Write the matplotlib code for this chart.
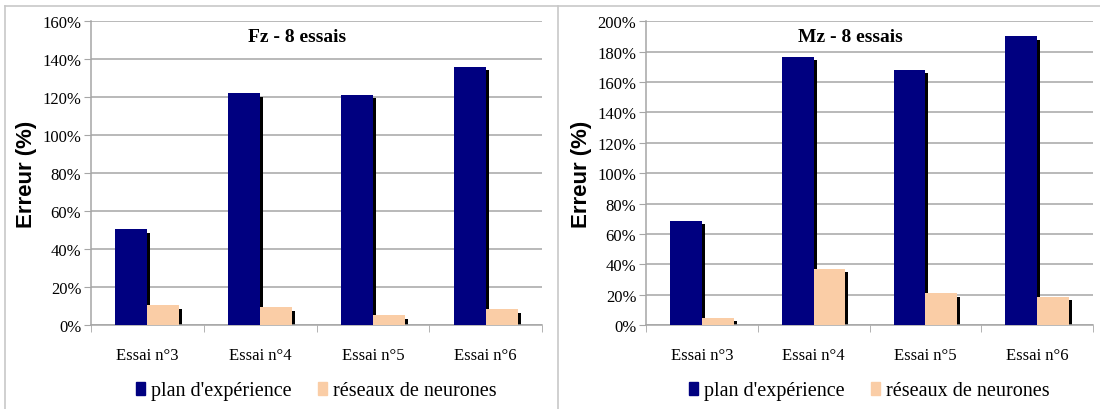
import matplotlib
matplotlib.use("Agg")
import matplotlib.pyplot as plt
import numpy as np
from matplotlib.patches import Patch
from matplotlib.lines import Line2D
from matplotlib.transforms import ScaledTranslation
from matplotlib.ticker import FuncFormatter, MultipleLocator

# Données
essais = ["Essai n°3", "Essai n°4", "Essai n°5", "Essai n°6"]
fz_plan = [50.5, 122, 121.3, 136]
fz_reseaux = [10.3, 9.4, 5.2, 8.4]
mz_plan = [68.5, 176.5, 168, 190]
mz_reseaux = [4.8, 37, 21, 18.6]

BLEU = "#000080"
PECHE = "#FACDA6"
GRIS = "#a6a6a6"

plt.rcParams["font.family"] = ["Liberation Serif", "DejaVu Serif"]

fig = plt.figure(figsize=(11, 4.1), dpi=100)

# Cadres des deux panneaux
for seg in [([5 / 1100, 1.0], [1 - 7 / 410] * 2),
            ([5 / 1100] * 2, [0, 1 - 7 / 410]),
            ([558 / 1100] * 2, [0, 1 - 7 / 410])]:
    fig.add_artist(Line2D(seg[0], seg[1], color="#c8c8c8", lw=1.2))


def panneau(rect, plan, reseaux, titre, ymax):
    ax = fig.add_axes(rect)
    x = np.arange(len(essais))
    w = 0.284
    ombre = ax.transData + ScaledTranslation(0.03, -0.035, fig.dpi_scale_trans)
    # ombres noires
    ax.bar(x - w / 2, plan, w, color="black", transform=ombre, zorder=2)
    ax.bar(x + w / 2, reseaux, w, color="black", transform=ombre, zorder=2)
    ax.bar(x - w / 2, plan, w, color=BLEU, zorder=3)
    ax.bar(x + w / 2, reseaux, w, color=PECHE, zorder=4)

    ax.set_xlim(-0.5, 3.5)
    ax.set_ylim(0, ymax)
    ax.yaxis.set_major_locator(MultipleLocator(20))
    ax.yaxis.set_major_formatter(FuncFormatter(lambda v, p: f"{v:.0f}%"))
    ax.grid(axis="y", color=GRIS, lw=1.1, zorder=0)
    ax.set_axisbelow(True)

    ax.set_xticks(x)
    ax.set_xticklabels(essais, fontsize=12)
    ax.set_xticks(np.arange(-0.5, 4, 1), minor=True)
    ax.tick_params(axis="x", which="major", length=0, pad=16)
    ax.tick_params(axis="x", which="minor", length=5, color=GRIS, direction="out")
    ax.tick_params(axis="y", length=5, color=GRIS, labelsize=12, pad=2)

    for s in ["top", "right"]:
        ax.spines[s].set_visible(False)
    for s in ["left", "bottom"]:
        ax.spines[s].set_color(GRIS)
        ax.spines[s].set_linewidth(1.1)

    ax.set_ylabel("Erreur (%)", family="Liberation Sans", fontweight="bold",
                  fontsize=16, labelpad=4)
    ax.text(0.458, 0.951, titre, transform=ax.transAxes, ha="center", va="center",
            fontsize=14, fontweight="bold")

    poignees = [Patch(color=BLEU, label="plan d'expérience"),
                Patch(color=PECHE, label="réseaux de neurones")]
    ax.legend(handles=poignees, loc="center", bbox_to_anchor=(0.5, -0.217),
              ncol=2, frameon=False, fontsize=14.5, handlelength=0.45,
              handleheight=0.6, handletextpad=0.3, columnspacing=1.3)
    return ax


panneau([91 / 1100, 84 / 410, 451 / 1100, 303.7 / 410], fz_plan, fz_reseaux,
        "Fz - 8 essais", 160)
panneau([646 / 1100, 84 / 410, 447 / 1100, 303.7 / 410], mz_plan, mz_reseaux,
        "Mz - 8 essais", 200)

fig.savefig("out.png", dpi=100)
